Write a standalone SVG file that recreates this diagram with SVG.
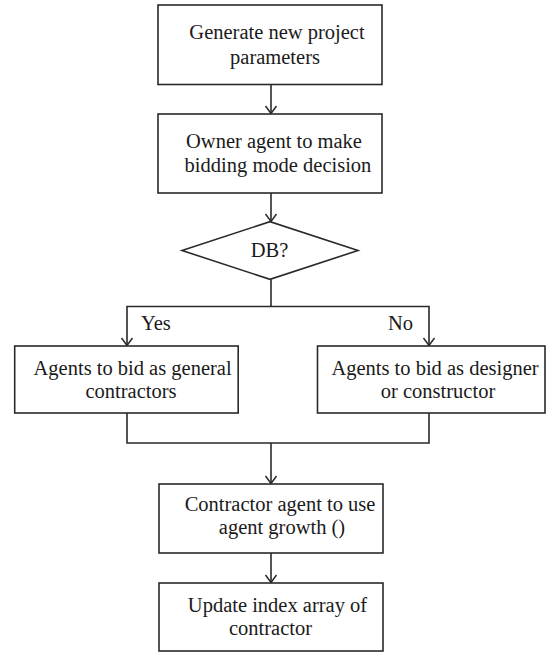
<svg xmlns="http://www.w3.org/2000/svg" width="548" height="652" viewBox="0 0 548 652">
  <style>
    .box { fill: #ffffff; stroke: #2a2a2a; stroke-width: 1.6; }
    .conn { fill: none; stroke: #2a2a2a; stroke-width: 1.6; }
    .lbl { font-family: "Liberation Serif", "DejaVu Serif", serif; font-size: 20.5px; fill: #1a1a1a; text-anchor: middle; }
    .lbls { font-family: "Liberation Serif", "DejaVu Serif", serif; font-size: 20.5px; fill: #1a1a1a; text-anchor: start; }
  </style>
  <defs>
    <marker id="arrow" viewBox="-9 -7 10 14" refX="0" refY="0" markerWidth="10" markerHeight="14" markerUnits="userSpaceOnUse" orient="auto">
      <path d="M-7.5,-5.5 L0,0 L-7.5,5.5" fill="none" stroke="#2a2a2a" stroke-width="1.5"/>
    </marker>
  </defs>
  <rect width="548" height="652" fill="#ffffff"/>

  <g id="connectors">
    <line class="conn" x1="271" y1="84.5" x2="271" y2="113.5" marker-end="url(#arrow)"/>
    <line class="conn" x1="271" y1="193" x2="271" y2="221.5" marker-end="url(#arrow)"/>
    <line class="conn" x1="271" y1="279.5" x2="271" y2="306.5"/>
    <path class="conn" d="M271,306.5 H127 V345.5" marker-end="url(#arrow)"/>
    <path class="conn" d="M271,306.5 H429 V345.5" marker-end="url(#arrow)"/>
    <polyline class="conn" points="127,413 127,443 429,443 429,413"/>
    <line class="conn" x1="271" y1="443" x2="271" y2="483.5" marker-end="url(#arrow)"/>
    <line class="conn" x1="271" y1="553" x2="271" y2="582.5" marker-end="url(#arrow)"/>
    <text class="lbls" x="141" y="330">Yes</text>
    <text class="lbls" x="388" y="330">No</text>
  </g>

  <g id="node-generate">
    <rect class="box" x="158" y="5" width="224" height="79.5"/>
    <text class="lbl" x="277" y="39">Generate new project</text>
    <text class="lbl" x="275" y="64">parameters</text>
  </g>

  <g id="node-owner">
    <rect class="box" x="158" y="114" width="224" height="79"/>
    <text class="lbl" x="274" y="148">Owner agent to make</text>
    <text class="lbl" x="278" y="172">bidding mode decision</text>
  </g>

  <g id="node-db">
    <polygon class="box" points="182,250.5 270,221.7 358,250.5 270,279.3"/>
    <text class="lbl" x="269.5" y="257">DB?</text>
  </g>

  <g id="node-general">
    <rect class="box" x="14.7" y="346" width="223.5" height="67"/>
    <text class="lbl" x="132.6" y="375">Agents to bid as general</text>
    <text class="lbl" x="131" y="398">contractors</text>
  </g>

  <g id="node-designer">
    <rect class="box" x="317.5" y="346" width="227.5" height="67"/>
    <text class="lbl" x="435" y="375">Agents to bid as designer</text>
    <text class="lbl" x="438" y="398">or constructor</text>
  </g>

  <g id="node-growth">
    <rect class="box" x="159" y="484" width="224" height="69"/>
    <text class="lbl" x="280" y="511">Contractor agent to use</text>
    <text class="lbl" x="282" y="534">agent growth ()</text>
  </g>

  <g id="node-update">
    <rect class="box" x="159" y="583" width="224" height="68"/>
    <text class="lbl" x="277.5" y="612">Update index array of</text>
    <text class="lbl" x="270.5" y="635">contractor</text>
  </g>
</svg>
